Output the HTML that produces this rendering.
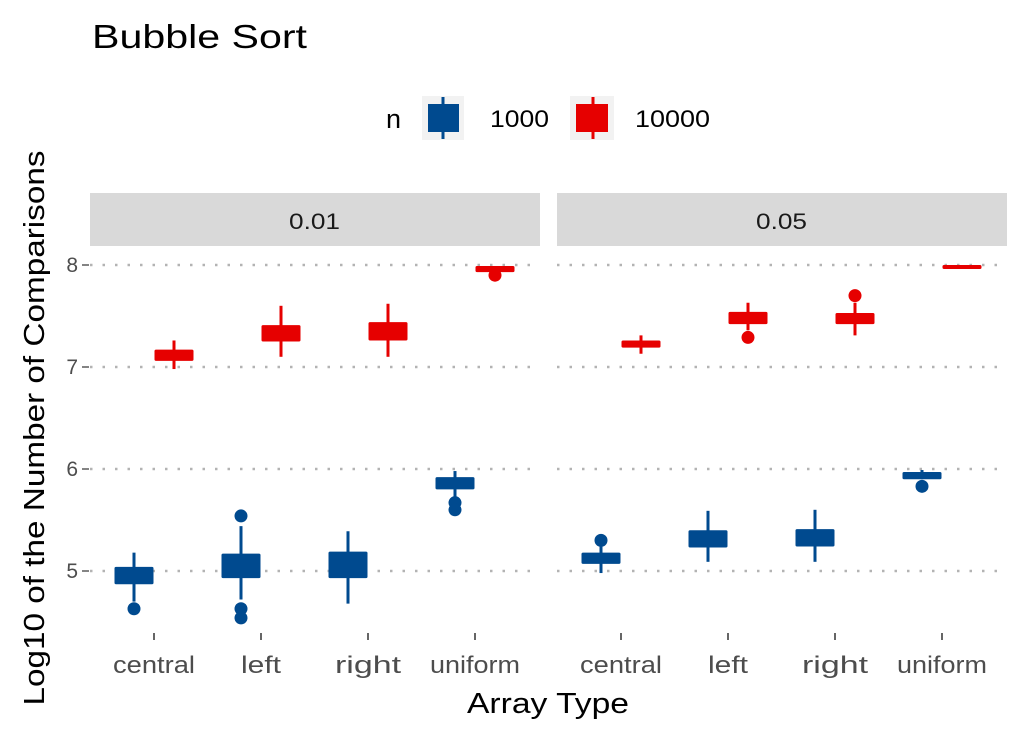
<!DOCTYPE html>
<html><head><meta charset="utf-8"><style>
body{margin:0;background:#fff;}
svg{display:block;font-family:"Liberation Sans",sans-serif;}
</style></head><body>
<svg id="chart" width="1024" height="738" viewBox="0 0 1024 738">
<text x="92" y="48" font-size="33" textLength="215" lengthAdjust="spacingAndGlyphs" fill="#000">Bubble Sort</text>
<g>
<text x="386" y="128" font-size="27" fill="#000">n</text>
<g>
<rect x="422" y="96" width="42" height="44" fill="#f2f2f2"/>
<line x1="443" y1="97" x2="443" y2="139" stroke="#004a8f" stroke-width="3"/>
<rect x="428" y="104" width="31" height="28" fill="#004a8f"/>
<text x="490" y="127" font-size="24" textLength="59" lengthAdjust="spacingAndGlyphs">1000</text></g>
<g>
<rect x="570" y="96" width="44" height="44" fill="#f2f2f2"/>
<line x1="593" y1="97" x2="593" y2="139" stroke="#e60000" stroke-width="3"/>
<rect x="576" y="104" width="32" height="28" fill="#e60000"/>
<text x="635" y="127" font-size="24" textLength="75" lengthAdjust="spacingAndGlyphs">10000</text></g>
</g>
<rect x="90" y="193" width="450" height="53" fill="#d9d9d9"/>
<text x="289" y="229" font-size="22" textLength="51" lengthAdjust="spacingAndGlyphs" fill="#1a1a1a">0.01</text>
<rect x="557" y="193" width="450" height="53" fill="#d9d9d9"/>
<text x="756" y="229" font-size="22" textLength="51" lengthAdjust="spacingAndGlyphs" fill="#1a1a1a">0.05</text>
<text transform="translate(44,428) rotate(-90)" font-size="29" text-anchor="middle" textLength="555" lengthAdjust="spacingAndGlyphs" fill="#000">Log10 of the Number of Comparisons</text>
<text x="548" y="713" font-size="29" text-anchor="middle" textLength="162" lengthAdjust="spacingAndGlyphs" fill="#000">Array Type</text>
<g id="plot"></g>
</svg>
<script>
const categories=["central","left","right","uniform"];
const catWidths=[82,40,66,90];
const facets=["0.01","0.05"];
const yTicks=[5,6,7,8];
// [boxLow, boxHigh, whiskLow, whiskHigh]
const blue001=[[4.87,5.04,4.70,5.18],[4.93,5.17,4.72,5.44],[4.93,5.19,4.68,5.39],[5.80,5.92,5.72,5.98]];
const blue001Out=[[4.63],[5.54,4.63,4.54],[],[5.67,5.60]];
const red001=[[7.06,7.17,6.98,7.26],[7.25,7.41,7.10,7.60],[7.26,7.44,7.10,7.62],[7.93,7.99,7.93,7.99]];
const red001Out=[[],[],[],[7.90]];
const blue005=[[5.07,5.18,4.98,5.24],[5.23,5.40,5.09,5.59],[5.24,5.41,5.09,5.60],[5.90,5.97,5.90,5.99]];
const blue005Out=[[5.30],[],[],[5.83]];
const red005=[[7.19,7.26,7.13,7.31],[7.42,7.54,7.36,7.63],[7.42,7.53,7.31,7.63],[7.97,8.00,7.97,8.00]];
const red005Out=[[],[7.29],[7.70],[]];

const NS="http://www.w3.org/2000/svg";
const plot=document.getElementById('plot');
const panelX=[90,557], panelW=450;
function yScale(v){return 265+(8-v)*102;}
function xScale(f,i){return panelX[f]+64+i*107;}
function mk(tag,attrs){const e=document.createElementNS(NS,tag);for(const k in attrs)e.setAttribute(k,attrs[k]);plot.appendChild(e);return e;}

yTicks.forEach(t=>{
  const l=mk('text',{x:78,y:yScale(t)+7,'font-size':21,'text-anchor':'end',fill:'#4d4d4d'});
  l.textContent=t;
  
  
  mk('line',{x1:82,y1:yScale(t),x2:89,y2:yScale(t),stroke:'#333','stroke-width':1.2});
  facets.forEach((f,fi)=>{
    const g=mk('line',{x1:panelX[fi],y1:yScale(t),x2:panelX[fi]+panelW,y2:yScale(t),stroke:'#b3b3b3','stroke-width':2.5,'stroke-dasharray':'2.5 10'});
    
    
  });
});
facets.forEach((f,fi)=>{
  categories.forEach((c,ci)=>{
    const x=xScale(fi,ci);
    mk('line',{x1:x,y1:633,x2:x,y2:640,stroke:'#333','stroke-width':1.5});
    const t=mk('text',{x:x,y:673,'font-size':24,'text-anchor':'middle',fill:'#4d4d4d',textLength:catWidths[ci],lengthAdjust:'spacingAndGlyphs'});
    t.textContent=c;
    
    
  });
});
function drawBox(fi,ci,d,outs,col,off,name){
  const x=xScale(fi,ci)+off, w=39;
  const wl=mk('line',{x1:x,y1:yScale(d[3]),x2:x,y2:yScale(d[2]),stroke:col,'stroke-width':3});
  
  
  const h=Math.max(4,yScale(d[0])-yScale(d[1]));
  const r=mk('rect',{x:x-w/2,y:yScale(d[1]),width:w,height:h,fill:col,rx:1.5});
  
  
  outs.forEach(o=>{
    const p=mk('circle',{cx:x,cy:yScale(o),r:6.5,fill:col});
    
    
  });
}
const blue='#004a8f', red='#e60000';
categories.forEach((c,ci)=>{
  drawBox(0,ci,blue001[ci],blue001Out[ci],blue,-20,'n1000-'+c+'-001');
  drawBox(0,ci,red001[ci],red001Out[ci],red,20,'n10000-'+c+'-001');
  drawBox(1,ci,blue005[ci],blue005Out[ci],blue,-20,'n1000-'+c+'-005');
  drawBox(1,ci,red005[ci],red005Out[ci],red,20,'n10000-'+c+'-005');
});
</script>
</body></html>
